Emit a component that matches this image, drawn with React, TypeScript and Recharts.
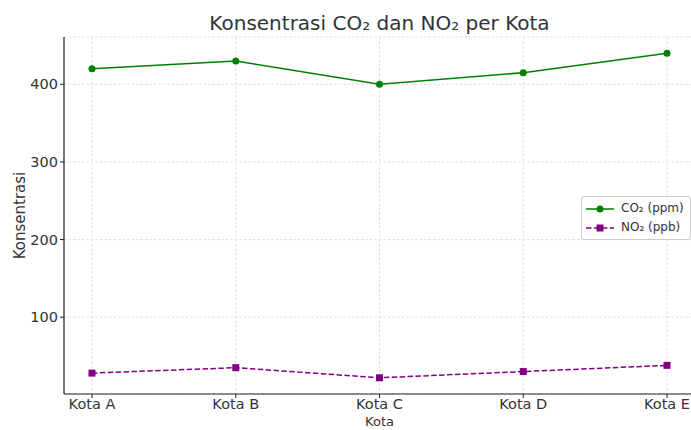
import { LineChart, Line, XAxis, YAxis, CartesianGrid, Legend } from 'recharts';

const kota = ['Kota A', 'Kota B', 'Kota C', 'Kota D', 'Kota E'];
const co2 = [420, 430, 400, 415, 440];
const no2 = [28, 35, 22, 30, 38];
const yTicks = [100, 200, 300, 400];

const data = kota.map((k, i) => ({ kota: k, co2: co2[i], no2: no2[i] }));

const FONT = 'DejaVu Sans, sans-serif';
const TEXT = '#333';

const SquareDot = (props: any) => {
    const { cx, cy } = props;
    if (cx == null || cy == null) return null;
    return <rect x={cx - 3.5} y={cy - 3.5} width={7} height={7} fill="#800080" />;
};

const LegendBox = () => (
    <div
        style={{
            border: '1px solid #ccc',
            borderRadius: 3,
            background: 'rgba(255,255,255,0.85)',
            padding: '2px 6px 2px 4px',
            fontFamily: FONT,
            fontSize: 12,
            color: TEXT,
            lineHeight: '19px',
        }}
    >
        <div style={{ display: 'flex', alignItems: 'center' }}>
            <svg width={28} height={10} style={{ marginRight: 7 }}>
                <line x1={0} y1={5} x2={28} y2={5} stroke="#008000" strokeWidth={1.5} />
                <circle cx={14} cy={5} r={3.5} fill="#008000" />
            </svg>
            CO₂ (ppm)
        </div>
        <div style={{ display: 'flex', alignItems: 'center' }}>
            <svg width={28} height={10} style={{ marginRight: 7 }}>
                <line x1={0} y1={5} x2={28} y2={5} stroke="#800080" strokeWidth={1.5} strokeDasharray="5.5 2.4" />
                <rect x={10.5} y={1.5} width={7} height={7} fill="#800080" />
            </svg>
            NO₂ (ppb)
        </div>
    </div>
);

export default function App() {
    return (
        <div style={{ position: 'fixed', left: 0, top: 0, width: 691, height: 430, overflow: 'hidden', background: '#fff' }}>
            <div
                style={{
                    position: 'absolute',
                    left: 64,
                    width: 631,
                    top: 11,
                    textAlign: 'center',
                    fontFamily: FONT,
                    fontSize: 20,
                    color: TEXT,
                }}
            >
                Konsentrasi CO₂ dan NO₂ per Kota
            </div>
            <LineChart width={700} height={430} data={data} margin={{ top: 37, right: 5, bottom: 0, left: 0 }}>
                <CartesianGrid stroke="#d4d4d4" strokeWidth={0.8} strokeDasharray="2.5 2" />
                <XAxis
                    dataKey="kota"
                    height={36}
                    padding={{ left: 28, right: 28 }}
                    axisLine={{ stroke: '#222', strokeWidth: 1.2 }}
                    tickLine={{ stroke: '#222' }}
                    tickSize={4}
                    tickMargin={1}
                    tick={{ fill: TEXT, fontSize: 14.5, fontFamily: FONT }}
                    label={{ value: 'Kota', position: 'insideBottom', offset: 4, fill: TEXT, fontSize: 13, fontFamily: FONT }}
                />
                <YAxis
                    width={64}
                    type="number"
                    domain={[1.1, 460.9]}
                    allowDataOverflow
                    ticks={yTicks}
                    axisLine={{ stroke: '#222', strokeWidth: 1.2 }}
                    tickLine={{ stroke: '#222' }}
                    tickSize={4}
                    tick={{ fill: TEXT, fontSize: 14.5, fontFamily: FONT }}
                    label={{
                        value: 'Konsentrasi',
                        angle: -90,
                        position: 'insideLeft',
                        offset: 20,
                        fill: TEXT,
                        fontSize: 15,
                        fontFamily: FONT,
                        style: { textAnchor: 'middle' },
                    }}
                />
                <Legend
                    layout="vertical"
                    align="center"
                    verticalAlign="middle"
                    wrapperStyle={{ left: 581, top: 196, width: 'auto' }}
                    content={() => <LegendBox />}
                />
                <Line
                    dataKey="co2"
                    name="CO₂ (ppm)"
                    stroke="#008000"
                    strokeWidth={1.5}
                    dot={{ r: 3.5, fill: '#008000', stroke: '#008000', strokeWidth: 0 }}
                    isAnimationActive={false}
                />
                <Line
                    dataKey="no2"
                    name="NO₂ (ppb)"
                    stroke="#800080"
                    strokeWidth={1.5}
                    strokeDasharray="5.5 2.4"
                    dot={<SquareDot />}
                    isAnimationActive={false}
                />
            </LineChart>
        </div>
    );
}
